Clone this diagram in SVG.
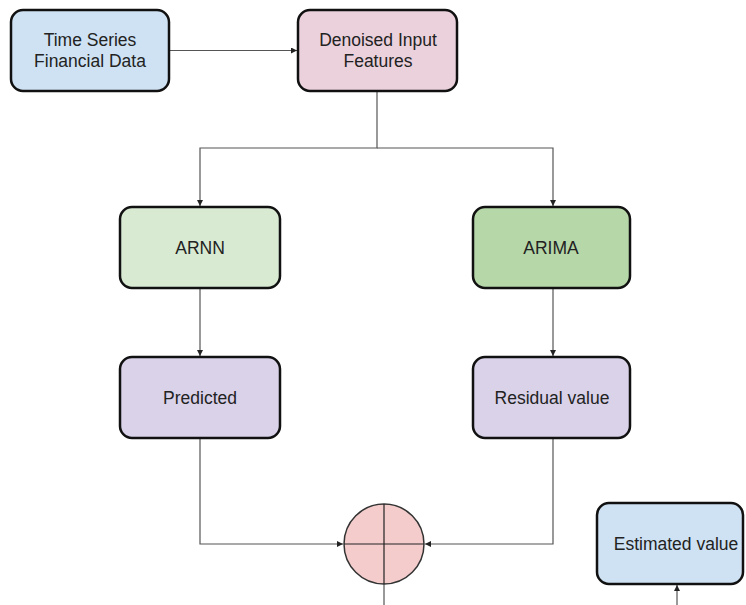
<svg xmlns="http://www.w3.org/2000/svg" width="746" height="605" viewBox="0 0 746 605">
  <style>
    .box { stroke: #111; stroke-width: 2.5; }
    .lbl { font-family: "Liberation Sans", Arial, sans-serif; font-size: 17.5px; fill: #222; text-anchor: middle; }
    .wire { fill: none; stroke: #555; stroke-width: 1.2; }
  </style>
  <defs>
    <marker id="arrow" viewBox="0 0 8 8" refX="8" refY="4" markerWidth="6" markerHeight="6" markerUnits="userSpaceOnUse" orient="auto">
      <path d="M0,0 L8,4 L0,8 z" fill="#222"/>
    </marker>
  </defs>
  <rect width="746" height="605" fill="#fff"/>

  <g id="connectors">
    <path class="wire" d="M170,50.5 H297" marker-end="url(#arrow)"/>
    <path class="wire" d="M377,91 V148 H200 V206" marker-end="url(#arrow)"/>
    <path class="wire" d="M377,148 H553 V206" marker-end="url(#arrow)"/>
    <path class="wire" d="M200,288 V356" marker-end="url(#arrow)"/>
    <path class="wire" d="M553,288 V356" marker-end="url(#arrow)"/>
    <path class="wire" d="M200,438 V544 H343" marker-end="url(#arrow)"/>
    <path class="wire" d="M553,438 V544 H425" marker-end="url(#arrow)"/>
    <path class="wire" d="M384,584 V605"/>
    <path class="wire" d="M677,605 V585" marker-end="url(#arrow)"/>
  </g>

  <g id="time-series">
    <rect class="box" x="11" y="10" width="158" height="81" rx="12" fill="#cfe2f3"/>
    <text class="lbl" x="90" y="46">Time Series</text>
    <text class="lbl" x="90" y="67">Financial Data</text>
  </g>

  <g id="denoised">
    <rect class="box" x="298" y="10" width="159" height="81" rx="12" fill="#ead1dc"/>
    <text class="lbl" x="378" y="46">Denoised Input</text>
    <text class="lbl" x="378" y="67">Features</text>
  </g>

  <g id="arnn">
    <rect class="box" x="120" y="207" width="160" height="81" rx="12" fill="#d9ead3"/>
    <text class="lbl" x="200" y="254">ARNN</text>
  </g>

  <g id="arima">
    <rect class="box" x="473" y="207" width="157" height="81" rx="12" fill="#b6d7a8"/>
    <text class="lbl" x="551" y="254">ARIMA</text>
  </g>

  <g id="predicted">
    <rect class="box" x="120" y="357" width="160" height="81" rx="12" fill="#d9d2e9"/>
    <text class="lbl" x="200" y="404">Predicted</text>
  </g>

  <g id="residual">
    <rect class="box" x="473" y="357" width="157" height="81" rx="12" fill="#d9d2e9"/>
    <text class="lbl" x="552" y="404">Residual value</text>
  </g>

  <g id="sum">
    <circle cx="384" cy="544" r="40" fill="#f4cccc" stroke="#333" stroke-width="1.5"/>
    <path d="M384,504 V584 M344,544 H424" stroke="#222" stroke-width="1.2"/>
  </g>

  <g id="estimated">
    <rect class="box" x="597" y="503" width="146" height="81" rx="12" fill="#cfe2f3"/>
    <text class="lbl" x="676" y="550">Estimated value</text>
  </g>
</svg>
